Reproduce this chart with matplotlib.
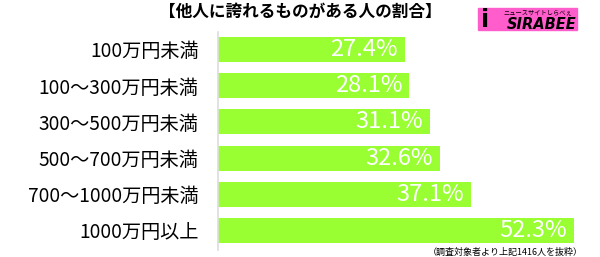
import matplotlib.pyplot as plt
from matplotlib.patches import Rectangle

plt.rcParams['font.family'] = ['Noto Sans CJK JP', 'DejaVu Sans']

# data
categories = ['100万円未満', '100〜300万円未満', '300〜500万円未満',
              '500〜700万円未満', '700〜1000万円未満', '1000万円以上']
values = [27.4, 28.1, 31.1, 32.6, 37.1, 52.3]
title = '【他人に誇れるものがある人の割合】'
note = '（調査対象者より上記1416人を抜粋）'

fig = plt.figure(figsize=(6, 2.57), dpi=100)
ax = fig.add_axes([218 / 600, 7 / 257, 382 / 600, 218 / 257])

ypos = list(range(len(values)))
ax.barh(ypos, values, height=0.69, color='#99ff33')
for y, v in zip(ypos, values):
    ax.text(v - 1.0, y, f'{v}%', ha='right', va='center',
            color='white', fontsize=17)

ax.set_xlim(0, 56.1)
ax.set_ylim(5.54, -0.48)
ax.set_yticks(ypos)
ax.set_yticklabels(categories, fontsize=13.8)
ax.tick_params(axis='y', length=0, pad=14)
ax.set_xticks([])
for s in ['top', 'right', 'bottom']:
    ax.spines[s].set_visible(False)
ax.spines['left'].set_color('#dddddd')
ax.spines['left'].set_linewidth(1.2)

fig.text(0.5, 0.955, title, ha='center', va='center',
         fontsize=12, fontweight='bold')
fig.text(583 / 600, 5 / 257, note, ha='right', va='center', fontsize=6.5)

# logo
fig.patches.append(Rectangle((478 / 600, 1 - 30 / 257), 99 / 600, 22 / 257,
                             transform=fig.transFigure, color='#ff5ccc'))
fig.text(481 / 600, 1 - 20 / 257, 'i', fontsize=17, fontweight='bold',
         ha='left', va='center', family='DejaVu Sans')
fig.text(577 / 600, 1 - 24.5 / 257, 'SIRABEE', fontsize=10.5, fontweight='heavy',
         style='italic', ha='right', va='center', family='DejaVu Sans')
fig.text(572 / 600, 1 - 12.5 / 257, 'ニュースサイトしらべぇ', fontsize=4.5,
         ha='right', va='center')

fig.savefig('out.png', dpi=100)
